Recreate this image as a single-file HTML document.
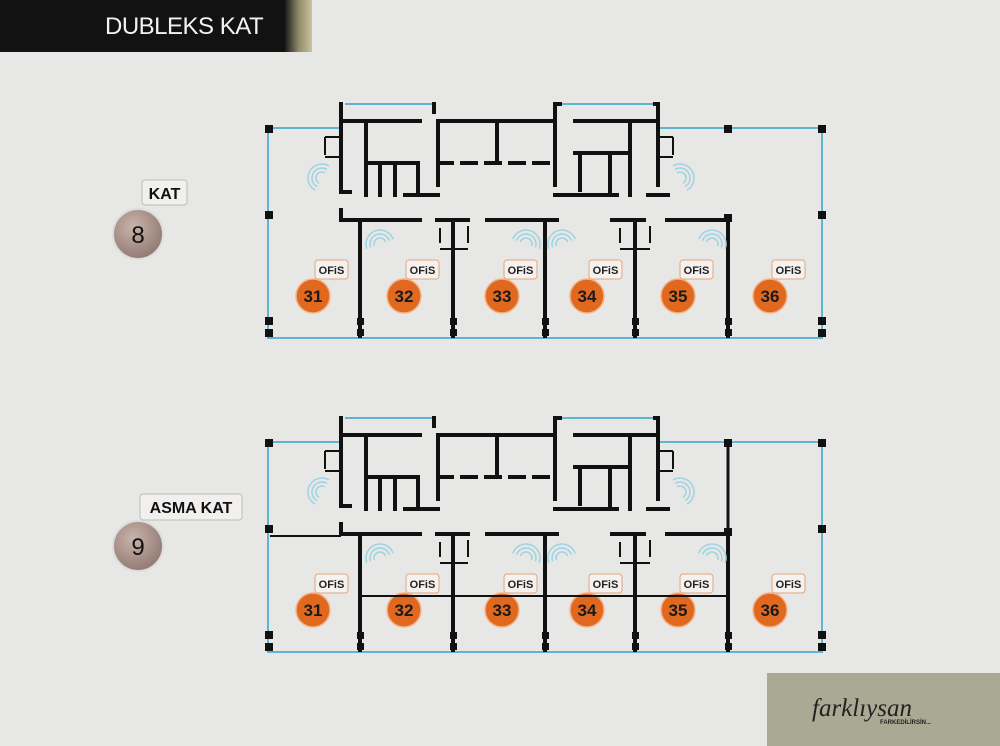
<!DOCTYPE html>
<html><head><meta charset="utf-8"><style>
html,body{margin:0;padding:0;width:1000px;height:746px;overflow:hidden;background:#e7e7e6;}
svg{display:block}
</style></head><body>
<svg width="1000" height="746" viewBox="0 0 1000 746" xmlns="http://www.w3.org/2000/svg" font-family="Liberation Sans, sans-serif">
<defs>
<linearGradient id="gold" x1="0" x2="1"><stop offset="0" stop-color="#1a1a18"/><stop offset="0.5" stop-color="#8f8a6a"/><stop offset="1" stop-color="#c9c3a2"/></linearGradient>
<radialGradient id="brn" cx="0.4" cy="0.35" r="0.7"><stop offset="0" stop-color="#c8b3aa"/><stop offset="1" stop-color="#8f7770"/></radialGradient>
<g id="lbl">
<rect x="2" y="-36" width="33" height="19" rx="3" fill="#f4f1ee" stroke="#e0a77f" stroke-width="1"/>
<text x="18.5" y="-22" font-size="11" text-anchor="middle" fill="#222" font-weight="bold">OFiS</text>
<circle cx="0" cy="0" r="17" fill="#e0691f" stroke="#f3b48a" stroke-width="1.5"/>
</g>
<g id="fan" fill="none" stroke="#9fd3e3" stroke-width="1.5">
<path d="M0 0 m-14 0 a14 14 0 0 1 28 0"/><path d="M0 0 m-10 0 a10 10 0 0 1 20 0"/><path d="M0 0 m-6 0 a6 6 0 0 1 12 0"/>
</g>
<g id="plan">
<g fill="none" stroke="#5fb5d0" stroke-width="2">
<polyline points="341,128 268,128 268,338 822,338 822,128 658,128"/>
<line x1="345" y1="104" x2="435" y2="104"/><line x1="560" y1="104" x2="655" y2="104"/>
</g>
<g stroke="#111" stroke-width="4" fill="none" stroke-linecap="square">
<polyline points="341,104 341,192 350,192"/>
<line x1="341" y1="121" x2="420" y2="121"/>
<line x1="366" y1="121" x2="366" y2="195"/>
<line x1="366" y1="163" x2="418" y2="163"/>
<line x1="380" y1="163" x2="380" y2="195"/>
<line x1="395" y1="163" x2="395" y2="195"/>
<line x1="418" y1="163" x2="418" y2="195"/>
<line x1="405" y1="195" x2="438" y2="195"/>
<line x1="434" y1="104" x2="434" y2="112"/>
<polyline points="438,185 438,121 555,121"/>
<line x1="497" y1="121" x2="497" y2="163"/>
<line x1="438" y1="163" x2="555" y2="163" stroke-dasharray="14,10"/>
<polyline points="555,185 555,104 560,104"/>
<line x1="575" y1="121" x2="658" y2="121"/>
<line x1="630" y1="121" x2="630" y2="195"/>
<line x1="575" y1="153" x2="630" y2="153"/>
<line x1="580" y1="153" x2="580" y2="190"/>
<line x1="610" y1="153" x2="610" y2="195"/>
<line x1="555" y1="195" x2="617" y2="195"/>
<polyline points="655,104 658,104 658,185"/>
<line x1="648" y1="195" x2="668" y2="195"/>
<polyline points="341,210 341,220 420,220"/>
<line x1="437" y1="220" x2="468" y2="220"/>
<line x1="487" y1="220" x2="557" y2="220"/>
<line x1="612" y1="220" x2="644" y2="220"/>
<line x1="667" y1="220" x2="728" y2="220"/>
<line x1="360" y1="220" x2="360" y2="336"/>
<line x1="453" y1="220" x2="453" y2="336"/>
<line x1="545" y1="220" x2="545" y2="336"/>
<line x1="635" y1="220" x2="635" y2="336"/>
<line x1="728" y1="218" x2="728" y2="336"/>
</g>
<g stroke="#111" stroke-width="2" fill="none">
<line x1="440" y1="228" x2="440" y2="243"/><line x1="468" y1="226" x2="468" y2="243"/>
<line x1="440" y1="249" x2="468" y2="249"/>
<line x1="620" y1="228" x2="620" y2="243"/><line x1="650" y1="226" x2="650" y2="243"/>
<line x1="620" y1="249" x2="650" y2="249"/>
<line x1="325" y1="137" x2="341" y2="137"/><line x1="325" y1="137" x2="325" y2="155"/><line x1="325" y1="157" x2="341" y2="157"/>
<line x1="658" y1="137" x2="673" y2="137"/><line x1="673" y1="137" x2="673" y2="155"/><line x1="658" y1="157" x2="673" y2="157"/>
</g>
<g fill="#111">
<rect x="265" y="125" width="8" height="8"/><rect x="265" y="211" width="8" height="8"/><rect x="265" y="317" width="8" height="8"/><rect x="265" y="329" width="8" height="8"/>
<rect x="818" y="125" width="8" height="8"/><rect x="818" y="211" width="8" height="8"/><rect x="818" y="317" width="8" height="8"/><rect x="818" y="329" width="8" height="8"/>
<rect x="724" y="125" width="8" height="8"/><rect x="724" y="214" width="8" height="8"/>
<rect x="357" y="318" width="7" height="7"/><rect x="357" y="329" width="7" height="7"/>
<rect x="450" y="318" width="7" height="7"/><rect x="450" y="329" width="7" height="7"/>
<rect x="542" y="318" width="7" height="7"/><rect x="542" y="329" width="7" height="7"/>
<rect x="632" y="318" width="7" height="7"/><rect x="632" y="329" width="7" height="7"/>
<rect x="725" y="318" width="7" height="7"/><rect x="725" y="329" width="7" height="7"/>
</g>
<use href="#fan" transform="translate(322,178) rotate(-60)"/>
<use href="#fan" transform="translate(380,244) rotate(-20)"/>
<use href="#fan" transform="translate(526,244) rotate(20)"/>
<use href="#fan" transform="translate(562,244) rotate(-20)"/>
<use href="#fan" transform="translate(680,178) rotate(60)"/>
<use href="#fan" transform="translate(712,244) rotate(20)"/>
<use href="#lbl" transform="translate(313,296)"/><use href="#lbl" transform="translate(404,296)"/>
<use href="#lbl" transform="translate(502,296)"/><use href="#lbl" transform="translate(587,296)"/>
<use href="#lbl" transform="translate(678,296)"/><use href="#lbl" transform="translate(770,296)"/>
</g>
</defs>

<rect x="0" y="0" width="312" height="52" fill="#121212"/>
<rect x="285" y="0" width="27" height="52" fill="url(#gold)"/>
<text x="105" y="34" font-size="24" fill="#f2f2f2" letter-spacing="-0.5">DUBLEKS KAT</text>

<use href="#plan"/>
<g font-size="17" fill="#1a1a1a" text-anchor="middle" font-weight="bold">
<text x="313" y="302">31</text><text x="404" y="302">32</text><text x="502" y="302">33</text>
<text x="587" y="302">34</text><text x="678" y="302">35</text><text x="770" y="302">36</text>
</g>

<use href="#plan" transform="translate(0,314)"/>
<g stroke="#111" stroke-width="2">
<line x1="270" y1="536" x2="341" y2="536"/>
<line x1="360" y1="596" x2="728" y2="596"/>
<line x1="728" y1="440" x2="728" y2="536" stroke-width="3"/>
</g>
<g font-size="17" fill="#1a1a1a" text-anchor="middle" font-weight="bold">
<text x="313" y="616">31</text><text x="404" y="616">32</text><text x="502" y="616">33</text>
<text x="587" y="616">34</text><text x="678" y="616">35</text><text x="770" y="616">36</text>
</g>

<circle cx="138" cy="234" r="25" fill="url(#brn)" stroke="#ddd" stroke-width="2"/>
<rect x="142" y="180" width="45" height="25" rx="3" fill="#f2f0ee" stroke="#bbb"/>
<text x="164.5" y="199" font-size="16" font-weight="bold" text-anchor="middle" fill="#111">KAT</text>
<text x="138" y="243" font-size="24" text-anchor="middle" fill="#111">8</text>

<circle cx="138" cy="546" r="25" fill="url(#brn)" stroke="#ddd" stroke-width="2"/>
<rect x="140" y="494" width="102" height="26" rx="3" fill="#f2f0ee" stroke="#bbb"/>
<text x="191" y="513" font-size="16" font-weight="bold" text-anchor="middle" fill="#111">ASMA KAT</text>
<text x="138" y="555" font-size="24" text-anchor="middle" fill="#111">9</text>

<rect x="767" y="673" width="233" height="73" fill="#aaa993"/>
<text x="812" y="716" style="font-family:'Liberation Serif',serif;font-style:italic" font-size="25" fill="#222">farklıysan</text>
<text x="880" y="724" font-size="6" font-weight="bold" fill="#222">FARKEDİLİRSİN...</text>
</svg>
</body></html>
